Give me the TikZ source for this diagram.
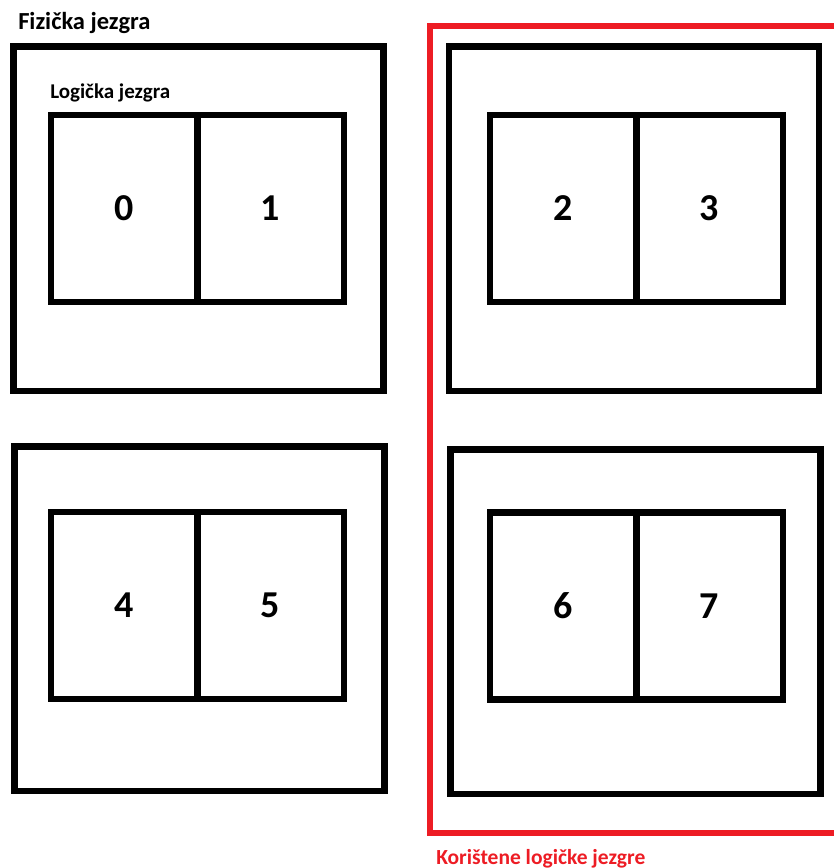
\documentclass[tikz,border=0pt]{standalone}
\usepackage{fontspec}
\setmainfont{Carlito}
\usetikzlibrary{positioning}
\definecolor{crvena}{RGB}{237,28,36}

\begin{document}
\begin{tikzpicture}[x=1pt,y=-1pt,line width=6.5pt,
  fizicka/.style={draw,outer sep=0pt,minimum width=370pt,minimum height=344.5pt},
  logicka/.style={draw,outer sep=0pt,minimum width=146.5pt,minimum height=187pt,
    font=\fontsize{38}{40}\selectfont\bfseries},
  oznaka/.style={anchor=base west,inner sep=0pt,font=\fontsize{#1}{#1}\selectfont\bfseries}]
\useasboundingbox (0,0) rectangle (834,868);
\node[oznaka=24.5] (tfiz) at (15,29) {Fizička jezgra};
\node[oznaka=21] (tlog) at (47,98) {Logička jezgra};
\node[oznaka=21.5,text=crvena] (tkor) at (433,864) {Korištene logičke jezgre};
\draw[crvena] (834,26) -| (430,833) -- (834,833);
\node[fizicka] (f1) at (198.5,218.75) {};
\node[fizicka] (f2) at (634,218.75) {};
\node[fizicka] (f3) at (199.5,618.75) {};
\node[fizicka] (f4) at (635.5,621.5) {};
\node[logicka] (l0) at (124,208.5) {0};
\node[logicka,right=0pt of l0] (l1) {1};
\node[logicka] (l2) at (563,208.5) {2};
\node[logicka,right=0pt of l2] (l3) {3};
\node[logicka] (l4) at (124,605.5) {4};
\node[logicka,right=0pt of l4] (l5) {5};
\node[logicka] (l6) at (563,606) {6};
\node[logicka,right=0pt of l6] (l7) {7};
\end{tikzpicture}
\end{document}
